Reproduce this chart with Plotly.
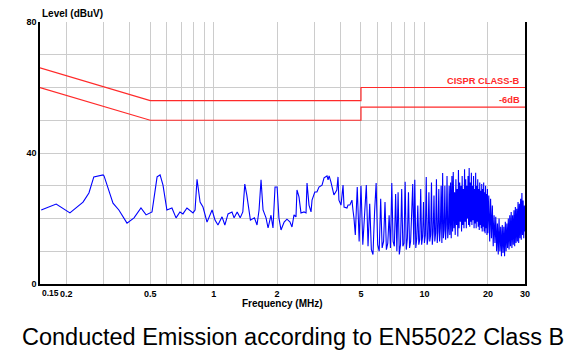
import math
import plotly.graph_objects as go

# ---------------- data ----------------
# CISPR 22 Class B limit (quasi-peak) and the -6 dB margin line
limit_freq = [0.15, 0.5, 5.0, 5.0, 30.0]
limit_level = [66, 56, 56, 60, 60]
margin_freq = [0.15, 0.5, 5.0, 5.0, 30.0]
margin_level = [60, 50, 50, 54, 54]

# measured emission, low band (0.15 - 4.7 MHz)
low_freq = [0.152, 0.179, 0.208, 0.240, 0.256, 0.270, 0.299, 0.302, 0.333, 0.355,
            0.388, 0.419, 0.452, 0.478, 0.510, 0.539, 0.557, 0.575, 0.600, 0.634,
            0.663, 0.692, 0.715, 0.747, 0.798, 0.816, 0.834, 0.862, 0.890, 0.930,
            0.983, 1.015, 1.048, 1.096, 1.13, 1.17, 1.222, 1.25, 1.293, 1.336,
            1.375, 1.405, 1.436, 1.494, 1.561, 1.606, 1.642, 1.678, 1.715, 1.772,
            1.812, 1.871, 1.912, 1.955, 2.0, 2.04, 2.087, 2.16, 2.227, 2.30,
            2.353, 2.405, 2.458, 2.485, 2.54, 2.596, 2.684, 2.743, 2.773, 2.834,
            2.897, 2.929, 3.02, 3.09, 3.16, 3.267, 3.34, 3.45, 3.49, 3.53,
            3.60, 3.68, 3.72, 3.84, 3.89, 3.93, 4.02, 4.11, 4.155, 4.29,
            4.34, 4.43, 4.53, 4.58, 4.63]
low_level = [22.6, 24.4, 21.7, 25.0, 27.8, 32.7, 33.3, 33.0, 24.7, 22.6,
             18.6, 20.2, 23.2, 21.1, 22.0, 32.7, 33.3, 30.2, 22.6, 23.2,
             20.2, 22.0, 21.4, 23.2, 21.7, 22.6, 32.0, 25.0, 23.5, 18.9,
             22.6, 19.5, 18.0, 20.5, 18.0, 21.4, 22.0, 20.2, 22.0, 20.2,
             22.0, 30.5, 27.2, 19.5, 20.2, 18.0, 22.6, 31.8, 22.6, 20.2,
             17.1, 21.0, 17.1, 29.6, 29.6, 20.2, 16.5, 18.9, 19.8, 19.0,
             17.4, 21.1, 20.5, 28.7, 26.6, 21.7, 22.0, 21.7, 30.8, 24.1,
             22.0, 25.6, 28.1, 28.1, 29.6, 30.2, 32.4, 33.0, 31.8, 33.0,
             31.2, 28.1, 27.2, 28.7, 32.7, 25.6, 24.1, 30.2, 23.5, 23.2,
             24.1, 24.1, 25.6, 22.6, 20.2]

# measured emission, mid band (4.7 - 13.0 MHz, 0.1 MHz steps)
mid_freq = [4.7, 4.8, 4.9, 5.0, 5.1, 5.2, 5.3, 5.4, 5.5, 5.6,
            5.7, 5.8, 5.9, 6.0, 6.1, 6.2, 6.3, 6.4, 6.5, 6.6,
            6.7, 6.8, 6.9, 7.0, 7.1, 7.2, 7.3, 7.4, 7.5, 7.6,
            7.7, 7.8, 7.9, 8.0, 8.1, 8.2, 8.3, 8.4, 8.5, 8.6,
            8.7, 8.8, 8.9, 9.0, 9.1, 9.2, 9.3, 9.4, 9.5, 9.6,
            9.7, 9.8, 9.9, 10.0, 10.1, 10.2, 10.3, 10.4, 10.5, 10.6,
            10.7, 10.8, 10.9, 11.0, 11.1, 11.2, 11.3, 11.4, 11.5, 11.6,
            11.7, 11.8, 11.9, 12.0, 12.1, 12.2, 12.3, 12.4, 12.5, 12.6,
            12.7, 12.8, 12.9, 13.0]
mid_level = [15.0, 29.6, 13.0, 30.0, 12.0, 20.0, 30.2, 11.5, 24.5, 10.5,
             9.0, 22.0, 30.8, 12.0, 10.0, 26.0, 11.0, 13.0, 25.0, 10.5,
             12.5, 21.0, 11.0, 30.8, 13.0, 11.5, 27.5, 10.0, 28.0, 9.0,
             12.0, 29.0, 11.5, 12.5, 31.2, 10.5, 14.0, 28.0, 11.0, 13.0,
             22.0, 30.5, 12.0, 31.8, 11.0, 14.0, 24.0, 12.0, 13.5, 29.0,
             12.0, 14.5, 25.0, 12.5, 15.0, 32.7, 12.0, 14.0, 28.0, 13.0,
             15.0, 31.0, 12.0, 16.0, 27.0, 13.0, 15.5, 32.0, 12.5, 16.0,
             29.0, 13.0, 17.0, 30.0, 12.5, 33.9, 14.0, 16.5, 30.0, 13.5,
             18.0, 33.0, 14.0, 17.0]

# measured emission, high band A (13.1 - 20.0 MHz, 0.1 MHz steps)
highA_freq = [13.1, 13.2, 13.3, 13.4, 13.5, 13.6, 13.7, 13.8, 13.9, 14.0,
              14.1, 14.2, 14.3, 14.4, 14.5, 14.6, 14.7, 14.8, 14.9, 15.0,
              15.1, 15.2, 15.3, 15.4, 15.5, 15.6, 15.7, 15.8, 15.9, 16.0,
              16.1, 16.2, 16.3, 16.4, 16.5, 16.6, 16.7, 16.8, 16.9, 17.0,
              17.1, 17.2, 17.3, 17.4, 17.5, 17.6, 17.7, 17.8, 17.9, 18.0,
              18.1, 18.2, 18.3, 18.4, 18.5, 18.6, 18.7, 18.8, 18.9, 19.0,
              19.1, 19.2, 19.3, 19.4, 19.5, 19.6, 19.7, 19.8, 19.9, 20.0]
highA_level = [30.0, 15.0, 31.0, 14.0, 33.0, 16.0, 34.2, 17.0, 28.0, 15.0,
               32.0, 18.0, 29.0, 14.5, 34.8, 17.0, 31.0, 19.0, 30.0, 16.0,
               33.0, 18.0, 29.0, 17.0, 35.0, 19.0, 32.0, 17.0, 30.0, 20.0,
               33.0, 18.0, 35.4, 17.5, 31.0, 19.0, 34.0, 18.0, 30.0, 19.5,
               33.0, 17.0, 29.0, 18.5, 34.0, 17.0, 30.0, 19.0, 32.0, 17.5,
               29.0, 16.5, 31.0, 18.0, 28.5, 17.0, 30.5, 16.0, 29.0, 17.5,
               31.0, 16.0, 28.0, 15.5, 30.0, 17.0, 27.5, 15.0, 29.0, 15.5]

# measured emission, high band B (20.2 - 30.0 MHz, 0.2 MHz steps)
highB_freq = [20.2, 20.4, 20.6, 20.8, 21.0, 21.2, 21.4, 21.6, 21.8, 22.0,
              22.2, 22.4, 22.6, 22.8, 23.0, 23.2, 23.4, 23.6, 23.8, 24.0,
              24.2, 24.4, 24.6, 24.8, 25.0, 25.2, 25.4, 25.6, 25.8, 26.0,
              26.2, 26.4, 26.6, 26.8, 27.0, 27.2, 27.4, 27.6, 27.8, 28.0,
              28.2, 28.4, 28.6, 28.8, 29.0, 29.2, 29.4, 29.6, 29.8, 30.0]
highB_level = [27.0, 13.0, 26.0, 14.0, 24.0, 11.5, 21.0, 12.5, 20.5, 10.0,
               18.5, 9.0, 20.0, 10.0, 17.5, 8.5, 18.0, 9.5, 17.5, 8.5,
               19.0, 10.0, 18.5, 11.0, 20.0, 10.5, 21.0, 11.5, 22.0, 11.0,
               21.0, 12.0, 22.5, 11.5, 23.5, 12.5, 23.0, 13.0, 25.0, 12.5,
               24.5, 14.0, 26.0, 13.5, 27.8, 15.0, 25.5, 14.0, 24.0, 16.0]

emission_freq = low_freq + mid_freq + highA_freq + highB_freq
emission_level = low_level + mid_level + highA_level + highB_level

# axis ticks
x_grid_vals = [0.15, 0.2, 0.3, 0.4, 0.5, 0.6, 0.7, 0.8, 0.9, 1, 2, 3, 4, 5, 6, 7, 8, 9, 10, 20, 30]
x_grid_text = ["", "0.2", "", "", "0.5", "", "", "", "", "1", "2", "", "", "5", "", "", "", "", "10", "20", "30"]
y_grid_vals = [0, 10, 20, 30, 40, 50, 60, 70, 80]
y_grid_text = ["0", "", "", "", "40", "", "", "", "80"]

RED = "#ff2a2a"
BLUE = "#0000ff"
FONT = "Liberation Sans"

fig = go.Figure()
fig.add_trace(go.Scatter(x=limit_freq, y=limit_level, mode="lines",
                         line=dict(color=RED, width=1.2), showlegend=False))
fig.add_trace(go.Scatter(x=margin_freq, y=margin_level, mode="lines",
                         line=dict(color=RED, width=1.2), showlegend=False))
fig.add_trace(go.Scatter(x=emission_freq, y=emission_level, mode="lines",
                         line=dict(color=BLUE, width=1.1), showlegend=False))

bold_tick = dict(family=FONT, size=9, color="black", weight="bold")

fig.update_layout(
    width=579, height=360,
    margin=dict(l=40, r=54, t=22, b=76),
    paper_bgcolor="white", plot_bgcolor="white",
    xaxis=dict(type="log", range=[math.log10(0.15), math.log10(30)],
               tickmode="array", tickvals=x_grid_vals, ticktext=x_grid_text,
               showgrid=True, gridcolor="#cccccc", gridwidth=1,
               showline=True, linecolor="black", linewidth=1.5,
               ticks="", zeroline=False, tickfont=bold_tick),
    yaxis=dict(range=[0, 80], tickmode="array", tickvals=y_grid_vals, ticktext=y_grid_text,
               showgrid=True, gridcolor="#cccccc", gridwidth=1,
               showline=True, linecolor="black", linewidth=1.5, mirror=True,
               ticks="", zeroline=False, tickfont=bold_tick),
    annotations=[
        dict(text="Level (dBuV)", xref="paper", yref="paper", x=0, y=1, xanchor="left",
             yanchor="bottom", yshift=1, showarrow=False,
             font=dict(family=FONT, size=10, color="black", weight="bold")),
        dict(text="0.15", xref="paper", yref="paper", x=0, y=0, xanchor="left",
             yanchor="top", xshift=0, yshift=-2, showarrow=False,
             font=dict(family=FONT, size=8.5, color="black", weight="bold")),
        dict(text="Frequency (MHz)", xref="paper", yref="paper", x=0.5, y=0, xanchor="center",
             yanchor="middle", yshift=-19, showarrow=False,
             font=dict(family=FONT, size=10, color="black", weight="bold")),
        dict(text="CISPR CLASS-B", xref="paper", yref="y", x=1, y=60, xanchor="right",
             yanchor="bottom", xshift=-3, showarrow=False,
             font=dict(family=FONT, size=9.3, color=RED, weight="bold")),
        dict(text="-6dB", xref="paper", yref="y", x=1, y=54, xanchor="right",
             yanchor="bottom", xshift=-3, showarrow=False,
             font=dict(family=FONT, size=9.3, color=RED, weight="bold")),
        dict(text="Conducted Emission according to EN55022 Class B", xref="paper", yref="paper",
             x=0.522, y=0, xanchor="center", yanchor="middle", yshift=-53, showarrow=False,
             font=dict(family=FONT, size=23.5, color="black")),
    ],
)

fig.write_html("out.html")
